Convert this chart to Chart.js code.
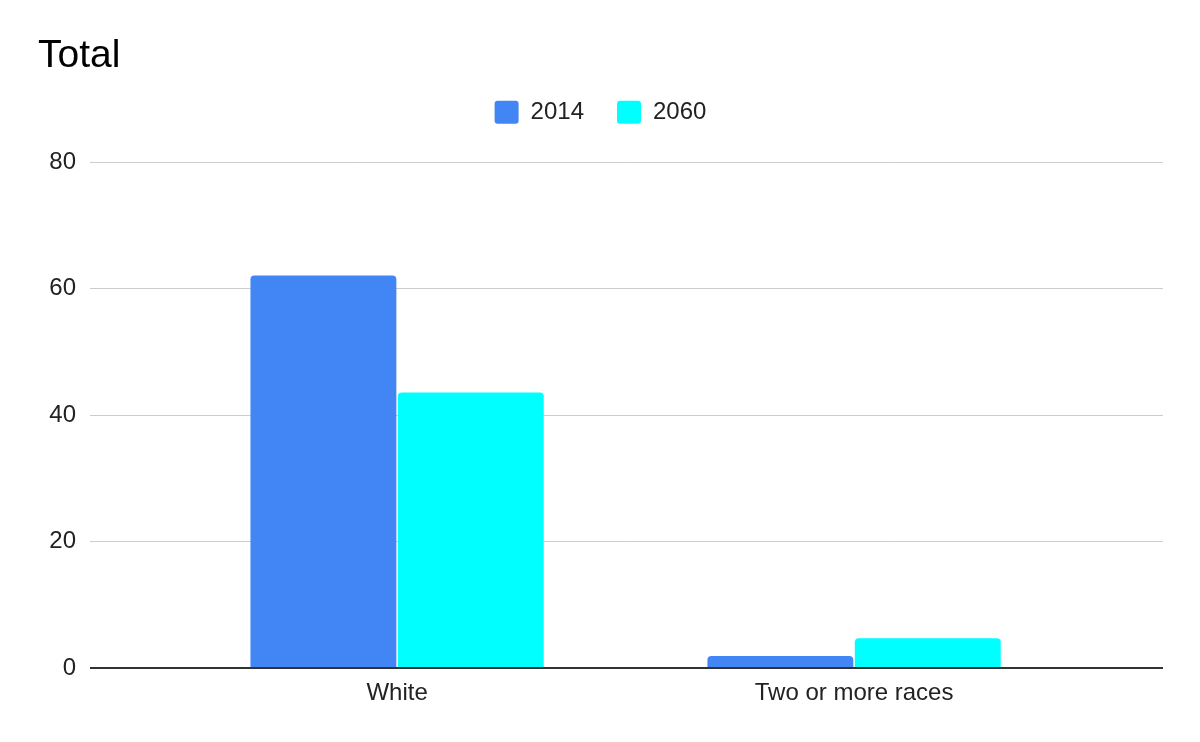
<!DOCTYPE html>
<html>
<head>
<meta charset="utf-8">
<script src="https://cdn.jsdelivr.net/npm/chart.js@4"></script>
<style>
  html, body { margin: 0; padding: 0; background: #fff; }
  #wrap { width: 1200px; height: 742px; }
</style>
</head>
<body>
<div id="wrap"><canvas id="chart"></canvas></div>
<script>
// chart data
const categories = ['White', 'Two or more races'];
const years = ['2014', '2060'];
const values2014 = [62.1, 1.9];
const values2060 = [43.6, 4.7];
const yTicks = [0, 20, 40, 60, 80];
const colors = ['#4285f4', '#00ffff'];

const FONT = 'Arial, "Liberation Sans", sans-serif';

// linear x axis so the category bands can sit inside a wider plot area
const toPoints = vals => vals.map((v, i) => ({ x: i, y: v }));

// push the plot area down below the legend
const legendSpacer = {
    id: 'legendSpacer',
    beforeInit(chart) {
        const fit = chart.legend.fit;
        chart.legend.fit = function () {
            fit.bind(chart.legend)();
            this.height += 28;
        };
    }
};

new Chart(document.getElementById('chart'), {
    type: 'bar',
    data: {
        datasets: [
            { label: years[0], data: toPoints(values2014), backgroundColor: colors[0] },
            { label: years[1], data: toPoints(values2060), backgroundColor: colors[1] }
        ]
    },
    options: {
        responsive: true,
        maintainAspectRatio: false,
        animation: false,
        layout: { padding: { left: 38, right: 37, top: 0, bottom: 0 } },
        datasets: {
            bar: {
                categoryPercentage: 0.645,
                barPercentage: 0.99,
                borderRadius: 4,
                borderSkipped: 'start'
            }
        },
        plugins: {
            title: {
                display: true,
                text: 'Total',
                align: 'start',
                color: '#000',
                font: { family: FONT, size: 39, weight: 'normal', lineHeight: 0.7 },
                padding: { top: 43, bottom: -3 }
            },
            legend: {
                display: true,
                position: 'top',
                labels: {
                    color: '#222',
                    font: { family: FONT, size: 24 },
                    boxWidth: 24,
                    boxHeight: 23,
                    useBorderRadius: true,
                    borderRadius: 3,
                    padding: 33
                }
            },
            tooltip: { enabled: false }
        },
        scales: {
            x: {
                type: 'linear',
                min: -0.672,
                max: 1.676,
                offset: false,
                afterBuildTicks: scale => {
                    scale.ticks = categories.map((c, i) => ({ value: i }));
                },
                afterFit: scale => { scale.height = 74; },
                ticks: {
                    callback: v => categories[v],
                    color: '#222',
                    font: { family: FONT, size: 24 },
                    padding: 3,
                    maxRotation: 0,
                    autoSkip: false
                },
                grid: { display: false },
                border: { display: false }
            },
            y: {
                min: 0,
                max: 80,
                afterBuildTicks: scale => {
                    scale.ticks = yTicks.map(v => ({ value: v }));
                },
                afterFit: scale => { scale.width = 52; },
                ticks: {
                    color: '#222',
                    font: { family: FONT, size: 24 },
                    padding: 14
                },
                grid: {
                    drawTicks: false,
                    color: ctx => ctx.tick && ctx.tick.value === 0 ? '#333' : '#cccccc',
                    lineWidth: ctx => ctx.tick && ctx.tick.value === 0 ? 2 : 1
                },
                border: { display: false }
            }
        }
    },
    plugins: [legendSpacer]
});
</script>
</body>
</html>
